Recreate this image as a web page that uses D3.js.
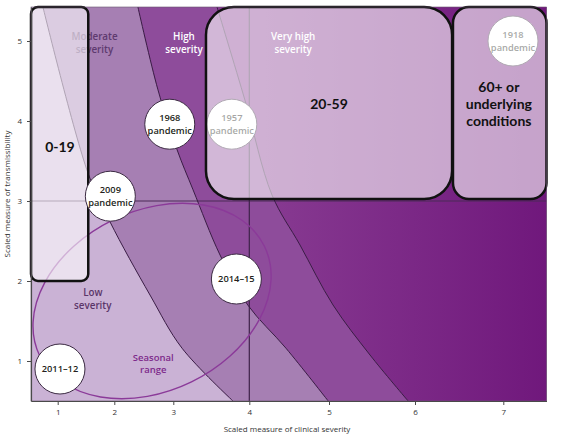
<!DOCTYPE html>
<html><head><meta charset="utf-8">
<script src="https://cdn.jsdelivr.net/npm/d3@7"></script>
<style>
html,body{margin:0;padding:0;background:#fff;}
svg{display:block;font-family:"Open Sans","Noto Sans",sans-serif;}
</style></head><body>
<svg id="chart" width="565" height="439"></svg>
<script>
// ---------- data ----------
const xTicks = [1, 2, 3, 4, 5, 6, 7];
const yTicks = [1, 2, 3, 4, 5];
const xDomainBreaks = [0.53, 1, 2, 3, 4, 5, 6, 7, 7.49];
const yDomain = [0.5, 5.425];
const thresholdX = 4;
const thresholdY = 3;

// severity boundaries (clinical severity, transmissibility), top to bottom
const boundaryLowModerate = [[0.74,5.425],[1.535,3.35],[1.924,2.74],[2.605,1.825],[3.115,1.16],[3.785,0.5]];
const boundaryModerateHigh = [[2.40,5.425],[2.74,4.39],[3.05,3.64],[3.26,3.14],[3.615,2.325],[3.98,1.7],[4.46,1.16],[4.99,0.5]];
const boundaryHighVeryHigh = [[3.575,5.425],[3.943,4.26],[4.285,3.075],[4.636,2.45],[5.047,1.7],[5.477,1.075],[5.92,0.5]];

const severityNames = ["Low severity", "Moderate severity", "High severity", "Very high severity"];
const severityLabelPos = [[1.62,1.775],[1.65,4.97],[3.14,4.97],[4.55,4.97]];

const seasonNames = ["1968 pandemic", "1957 pandemic", "1918 pandemic", "2009 pandemic", "2014–15", "2011–12"];
const seasonX = [2.94, 3.77, 7.11, 1.93, 3.83, 1.04];
const seasonY = [3.96, 3.96, 5.0, 3.06, 2.025, 0.9];
const seasonUnderBox = [false, true, true, false, false, false];

const seasonalRange = {label: "Seasonal range", cx: 2.64, cy: 1.75, lx: 2.66, ly: 0.97};

const ageGroupNames = ["0-19", "20-59", "60+ or underlying conditions"];
const ageGroupX0 = [0.53, 3.43, 6.43];
const ageGroupX1 = [1.54, 6.42, 7.49];
const ageGroupY0 = [2.0, 3.025, 3.025];
const ageGroupY1 = [5.425, 5.425, 5.425];
const ageLabelX = [1.04, 5.0, 6.95];
const ageLabelY = [3.675, 4.21, 4.21];

// ---------- scales ----------
const svg = d3.select("#chart");
const x = d3.scaleLinear().domain(xDomainBreaks)
  .range([31, 57.7, 114.3, 173.3, 249.3, 329, 415, 503.3, 546.5]);
const y = d3.scaleLinear().domain(yDomain).range([401, 7]);
const xMin = xDomainBreaks[0], xMax = xDomainBreaks[xDomainBreaks.length-1];

const defs = svg.append("defs");
defs.append("clipPath").attr("id","plotclip").append("rect")
  .attr("x", x(xMin)).attr("y", y(yDomain[1]))
  .attr("width", x(xMax)-x(xMin)).attr("height", y(yDomain[0])-y(yDomain[1]));
const grad = defs.append("linearGradient").attr("id","vhGrad")
  .attr("gradientUnits","userSpaceOnUse")
  .attr("x1", x(4.2)).attr("x2", x(xMax)).attr("y1",0).attr("y2",0);
grad.append("stop").attr("offset","0%").attr("stop-color","#873a91");
grad.append("stop").attr("offset","100%").attr("stop-color","#70187c");

const plot = svg.append("g").attr("clip-path","url(#plotclip)");

// background low band
plot.append("rect")
  .attr("x", x(xMin)).attr("y", y(yDomain[1]))
  .attr("width", x(xMax)-x(xMin)).attr("height", y(yDomain[0])-y(yDomain[1]))
  .attr("fill", "#cab2d5");

const curveGen = d3.line().x(d => x(d[0])).y(d => y(d[1])).curve(d3.curveCatmullRom.alpha(0.5));
const boundaries = [boundaryLowModerate, boundaryModerateHigh, boundaryHighVeryHigh];
const bandFills = ["#a67fb3", "#8e4c9b", "url(#vhGrad)"];
boundaries.forEach((b, i) => {
  const p = curveGen(b) + `L${x(xMax)+2},${y(yDomain[0])+2}L${x(xMax)+2},${y(yDomain[1])-2}Z`;
  plot.append("path").attr("d", p).attr("fill", bandFills[i]);
});

// threshold lines
plot.append("line").attr("x1", x(xMin)).attr("x2", x(xMax))
  .attr("y1", y(thresholdY)).attr("y2", y(thresholdY))
  .attr("stroke", "#4a2a56").attr("stroke-width", 1.2);
plot.append("line").attr("x1", x(thresholdX)).attr("x2", x(thresholdX))
  .attr("y1", y(yDomain[0])).attr("y2", y(yDomain[1]))
  .attr("stroke", "#3e2249").attr("stroke-width", 1.2);

// boundary strokes
boundaries.forEach(b => {
  plot.append("path").attr("d", curveGen(b)).attr("fill","none")
    .attr("stroke", "#3a1d45").attr("stroke-width", 1);
});

// seasonal range ellipse
plot.append("ellipse")
  .attr("cx", x(seasonalRange.cx)).attr("cy", y(seasonalRange.cy))
  .attr("rx", 125).attr("ry", 90)
  .attr("transform", `rotate(-26 ${x(seasonalRange.cx)} ${y(seasonalRange.cy)})`)
  .attr("fill","none").attr("stroke","#8b3a99").attr("stroke-width",1.4);
{
  const lines = seasonalRange.label.split(" ");
  const t = plot.append("text").attr("text-anchor","middle")
    .attr("font-size", 9.5).attr("font-weight", 600).attr("fill","#7d2a8b");
  lines.forEach((l, j) => {
    t.append("tspan").attr("x", x(seasonalRange.lx))
      .attr("y", y(seasonalRange.ly) + (j - 0.5) * 12 + 3.3).text(l);
  });
}

// severity labels
const sevColors = ["#5b3669", "#5e3a6f", "#ffffff", "#ffffff"];
severityNames.forEach((n, i) => {
  const words = n.split(" ");
  const lines = words.length > 2 ? [words.slice(0,2).join(" "), words[2]] : words;
  const t = plot.append("text").attr("text-anchor","middle")
    .attr("font-size", 9.8).attr("font-weight", 600).attr("fill", sevColors[i]);
  lines.forEach((l, j) => {
    t.append("tspan").attr("x", x(severityLabelPos[i][0]))
      .attr("y", y(severityLabelPos[i][1]) + (j - (lines.length-1)/2) * 13 + 3.5).text(l);
  });
});

function drawSeason(i) {
  const g = svg.append("g").attr("transform", `translate(${x(seasonX[i])},${y(seasonY[i])})`);
  g.append("circle").attr("r", 25).attr("fill","#fff").attr("stroke","#3b2a42").attr("stroke-width",1);
  const words = seasonNames[i].split(" ");
  const t = g.append("text").attr("text-anchor","middle").attr("font-size",9.3)
    .attr("font-weight",600).attr("fill","#231f20");
  words.forEach((w, j) => {
    t.append("tspan").attr("x",0).attr("y", (j - (words.length-1)/2) * 13 + 3.3).text(w);
  });
}
seasonNames.forEach((n,i) => { if (seasonUnderBox[i]) drawSeason(i); });

// age group boxes
const boxRadius = [7, 28, 16];
ageGroupNames.forEach((n, i) => {
  svg.append("rect")
    .attr("x", x(ageGroupX0[i])).attr("y", y(ageGroupY1[i]))
    .attr("width", x(ageGroupX1[i]) - x(ageGroupX0[i]))
    .attr("height", y(ageGroupY0[i]) - y(ageGroupY1[i]))
    .attr("rx", boxRadius[i]).attr("ry", boxRadius[i])
    .attr("fill", "#fff").attr("fill-opacity", 0.6)
    .attr("stroke", "#111").attr("stroke-width", 2.5);
});

seasonNames.forEach((n,i) => { if (!seasonUnderBox[i]) drawSeason(i); });

// age labels
ageGroupNames.forEach((n, i) => {
  const lines = n.includes(" ") ? ["60+ or", "underlying", "conditions"] : [n];
  const t = svg.append("text").attr("text-anchor","middle")
    .attr("font-family","Lato, 'Open Sans', sans-serif")
    .attr("font-size", 14).attr("font-weight", 700).attr("fill","#111");
  lines.forEach((l, j) => {
    t.append("tspan").attr("x", x(ageLabelX[i]))
      .attr("y", y(ageLabelY[i]) + (j - (lines.length-1)/2) * 17 + 5).text(l);
  });
});

// plot frame
svg.append("rect").attr("x", x(xMin)).attr("y", y(yDomain[1]))
  .attr("width", x(xMax)-x(xMin)).attr("height", y(yDomain[0])-y(yDomain[1]))
  .attr("fill","none").attr("stroke","#6a5870").attr("stroke-width",0.6);

// axes
const xAxis = svg.append("g").attr("transform", `translate(0,${y(yDomain[0])})`)
  .call(d3.axisBottom(x).tickValues(xTicks).tickFormat(d3.format("d")).tickSize(4).tickSizeOuter(0).tickPadding(4));
const yAxis = svg.append("g").attr("transform", `translate(${x(xMin)},0)`)
  .call(d3.axisLeft(y).tickValues(yTicks).tickFormat(d3.format("d")).tickSize(4).tickSizeOuter(0).tickPadding(5));
[xAxis, yAxis].forEach(a => {
  a.select(".domain").attr("stroke","#4a4a4a").attr("stroke-width",1.2);
  a.selectAll(".tick line").attr("stroke","#4a4a4a");
  a.selectAll(".tick text").attr("fill","#333").attr("font-size",8)
    .attr("font-family","'Open Sans', sans-serif");
});

svg.append("text").attr("x", 287).attr("y", 432).attr("text-anchor","middle")
  .attr("font-size", 8).attr("fill","#333").text("Scaled measure of clinical severity");
svg.append("text").attr("transform", `translate(10,194) rotate(-90)`).attr("text-anchor","middle")
  .attr("font-size", 8).attr("fill","#333").text("Scaled measure of transmissibility");
</script>
</body></html>
